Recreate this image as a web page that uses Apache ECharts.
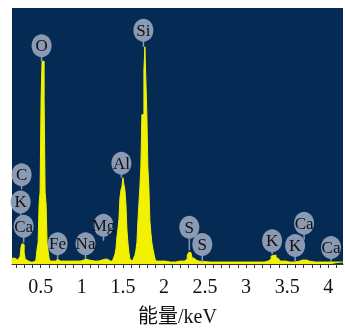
<!DOCTYPE html>
<html>
<head>
<meta charset="utf-8">
<script src="https://cdn.jsdelivr.net/npm/echarts@6/dist/echarts.min.js"></script>
<style>
  html, body { margin: 0; padding: 0; background: #fff; }
  #edsChart { width: 345px; height: 333px; }
</style>
</head>
<body>
<div id="edsChart"></div>
<script>
// spectrum: energy (keV) and relative counts
let energy = [0.146, 0.170, 0.200, 0.243, 0.255, 0.267, 0.279, 0.292, 0.304, 0.316, 0.328, 0.377, 0.437,
  0.450, 0.462, 0.474, 0.486, 0.498, 0.510, 0.522, 0.535, 0.547, 0.559, 0.571, 0.583, 0.595, 0.608, 0.620,
  0.668, 0.692, 0.705, 0.717, 0.741, 0.765, 0.863, 0.984, 1.021, 1.045, 1.069, 1.106, 1.203, 1.227, 1.264,
  1.300, 1.324, 1.373, 1.397, 1.410, 1.422, 1.434, 1.446, 1.458, 1.470, 1.482, 1.495, 1.507, 1.519, 1.531,
  1.543, 1.555, 1.567, 1.580, 1.592, 1.604, 1.628, 1.640, 1.652, 1.665, 1.677, 1.689, 1.701, 1.713, 1.725,
  1.738, 1.750, 1.762, 1.774, 1.786, 1.798, 1.810, 1.823, 1.835, 1.847, 1.859, 1.871, 1.883, 1.895, 1.908,
  1.956, 2.078, 2.199, 2.248, 2.272, 2.296, 2.309, 2.321, 2.333, 2.357, 2.382, 2.406, 2.442, 2.685, 2.928,
  3.171, 3.269, 3.293, 3.317, 3.341, 3.353, 3.378, 3.402, 3.426, 3.536, 3.657, 3.682, 3.706, 3.730, 3.755,
  3.779, 3.900, 4.180];
let counts = [6, 6, 4, 3, 8, 18, 21, 20, 12, 5, 3, 2, 3,
  6, 16, 22, 62, 74, 170, 209, 209, 170, 74, 62, 22, 14, 6, 3,
  3, 5, 5, 5, 3, 3, 3, 3, 4, 5, 4, 3, 3, 4, 5,
  5, 3, 3, 5, 10, 16, 28, 36, 46, 68, 76, 80, 89, 82, 76,
  62, 36, 22, 12, 5, 3, 4, 4, 9, 14, 22, 44, 62, 79, 100,
  154, 154, 200, 224, 224, 154, 100, 79, 44, 32, 22, 16, 11, 6, 3,
  3, 2, 3, 3, 5, 9, 12, 12, 10, 6, 4, 3, 2, 2, 2,
  2, 3, 5, 8, 9, 9, 6, 4, 3, 2, 3, 4, 4, 4, 3,
  2, 2, 2];

// element tags: label position and where the stem ends
let tagNames = ['O', 'Si', 'Al', 'C', 'K', 'Ca', 'Fe', 'Na', 'Mg', 'S', 'S', 'K', 'K', 'Ca', 'Ca'];
let tagEnergy = [0.510, 1.750, 1.482, 0.267, 0.255, 0.292, 0.705, 1.045, 1.264, 2.309, 2.467, 3.317, 3.597, 3.706, 4.034];
let tagHeight = [225, 241, 104, 92, 64, 39, 21, 21, 40, 38, 20, 24, 19, 42, 17];
let tagStemEnd = [209, 224, 89, 77, 50, 22, 5, 5, 24, 14, 2, 10, 2, 25, 2];

let tickLabels = [0.5, 1, 1.5, 2, 2.5, 3, 3.5, 4];

let tickValues = [];
for (let i = 2; i <= 41; i++) tickValues.push(i / 10);

let spectrum = energy.map((e, i) => [e, counts[i]]);
let tags = tagEnergy.map((e, i) => [e, tagHeight[i], tagStemEnd[i]]);

let edsChart = echarts.init(document.getElementById('edsChart'));
let option = {
  animation: false,
  grid: {
    left: 12,
    right: 2,
    top: 8,
    bottom: 61,
    show: true,
    backgroundColor: '#052b55',
    borderWidth: 0
  },
  xAxis: {
    type: 'value',
    min: 0.15,
    max: 4.18,
    name: '能量/keV',
    nameLocation: 'middle',
    nameGap: 44,
    nameTextStyle: {
      fontFamily: 'Liberation Serif, Noto Sans CJK SC',
      fontSize: 20,
      color: '#111'
    },
    axisLine: { show: true, lineStyle: { color: '#333', width: 1 } },
    axisTick: {
      show: true,
      customValues: tickValues,
      length: 4,
      lineStyle: { color: '#333' }
    },
    axisLabel: {
      customValues: tickLabels,
      margin: 14,
      fontFamily: 'Liberation Serif',
      fontSize: 20,
      color: '#111'
    },
    splitLine: { show: false }
  },
  yAxis: {
    type: 'value',
    min: 0,
    max: 264,
    show: false
  },
  series: [{
    type: 'line',
    data: spectrum,
    step: 'middle',
    symbol: 'none',
    lineStyle: { color: '#f2f200', width: 1 },
    areaStyle: { color: '#f2f200', opacity: 1 },
    z: 2
  }, {
    type: 'custom',
    data: tags,
    z: 3,
    renderItem: function (params, api) {
      let c = api.coord([api.value(0), api.value(1)]);
      let b = api.coord([api.value(0), api.value(2)]);
      return {
        type: 'group',
        children: [{
          type: 'line',
          shape: { x1: c[0], y1: c[1], x2: b[0], y2: b[1] },
          style: { stroke: '#8a9ab3', lineWidth: 1.5 }
        }, {
          type: 'ellipse',
          shape: { cx: c[0], cy: c[1], rx: 10, ry: 11.5 },
          style: { fill: '#8a9ab3' }
        }, {
          type: 'text',
          style: {
            text: tagNames[params.dataIndex],
            x: c[0],
            y: c[1] + 1,
            align: 'center',
            verticalAlign: 'middle',
            font: '17px "Liberation Serif"',
            fill: '#111'
          }
        }]
      };
    }
  }]
};
edsChart.setOption(option);
</script>
</body>
</html>
